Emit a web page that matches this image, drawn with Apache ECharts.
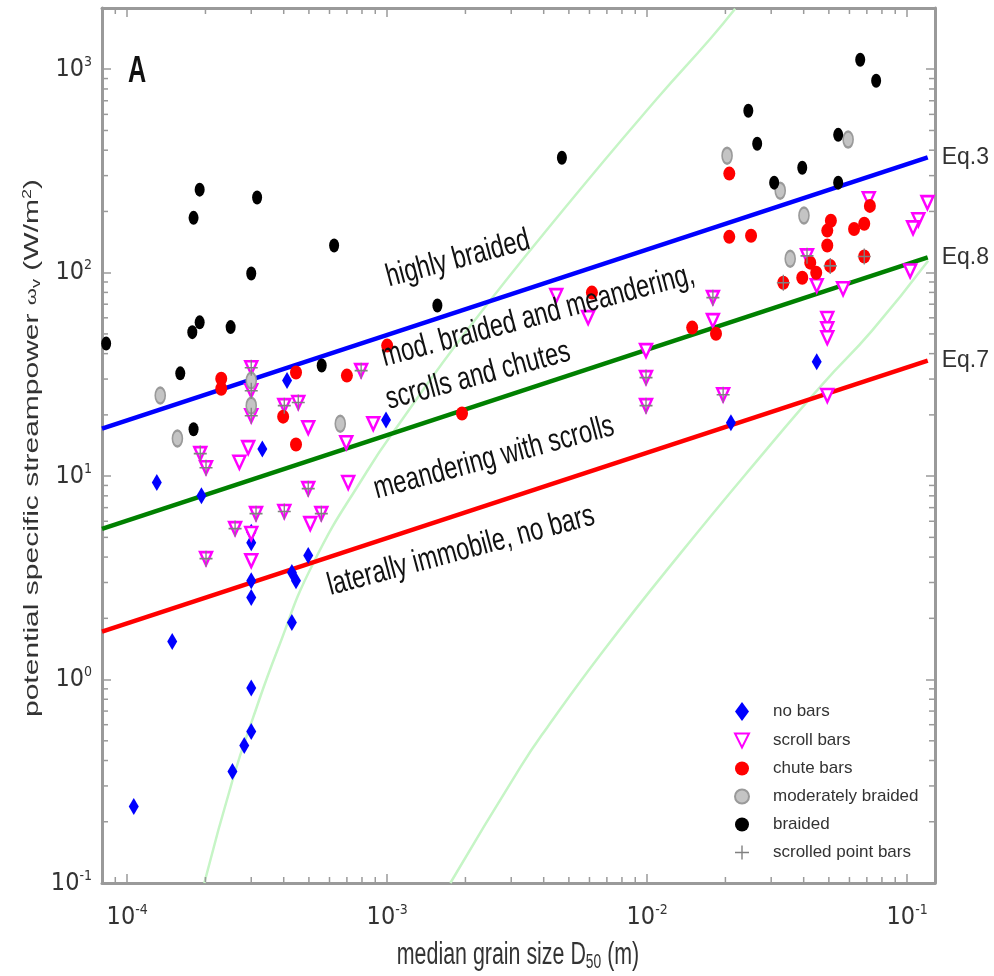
<!DOCTYPE html>
<html>
<head>
<meta charset="utf-8">
<title>Potential specific stream power vs median grain size</title>
<script src="https://cdn.jsdelivr.net/npm/echarts@6/dist/echarts.min.js"></script>
<style>
  html, body { margin: 0; padding: 0; background: #fff; overflow: hidden; }
  #chart { width: 994px; height: 976px; }
</style>
</head>
<body>
<div id="chart"></div>
<script>
// axis extents (log-log)
const xMin = 8e-5, xMax = 0.128;
const yMin = 0.1, yMax = 2000;

// points: [median grain size D50 (m), potential specific stream power (W/m2)]
const noBars = [
  [1.30e-4, 9.3], [1.93e-4, 8.0], [4.12e-4, 29.5], [3.31e-4, 13.6], [3.0e-4, 5.3],
  [3.0e-4, 4.7], [4.97e-4, 4.07], [4.3e-4, 3.36], [4.46e-4, 3.06], [3.0e-4, 3.06],
  [3.0e-4, 2.53], [4.3e-4, 1.91], [1.49e-4, 1.54], [3.0e-4, 0.91], [3.0e-4, 0.555],
  [2.82e-4, 0.474], [2.54e-4, 0.353], [1.06e-4, 0.238], [9.9e-4, 18.9], [0.0449, 36.5],
  [0.021, 18.3]
];
const scrollBars = [
  [3.0e-4, 34.1], [3.0e-4, 26.3], [3.0e-4, 19.8], [4.02e-4, 22.2], [4.55e-4, 23.0],
  [4.97e-4, 17.3], [7.94e-4, 33.0], [6.96e-4, 14.6], [2.92e-4, 13.8], [1.91e-4, 12.9],
  [2.01e-4, 11.0], [2.7e-4, 11.7], [7.08e-4, 9.3], [4.97e-4, 8.68], [3.13e-4, 6.54],
  [4.02e-4, 6.7], [5.58e-4, 6.54], [5.06e-4, 5.84], [2.6e-4, 5.52], [3.0e-4, 5.22],
  [2.01e-4, 3.93], [3.0e-4, 3.84], [8.84e-4, 18.1], [9.9e-3, 41.4], [9.9e-3, 30.5],
  [9.9e-3, 22.2], [5.93e-3, 60.1], [4.47e-3, 77.1], [0.0179, 75.4], [0.0179, 58.1],
  [0.0196, 25.1], [0.0712, 231], [0.1197, 221], [0.1104, 182], [0.1054, 166],
  [0.0412, 121], [0.0449, 86.3], [0.0567, 83.4], [0.1027, 102], [0.0493, 59.5],
  [0.0493, 53], [0.0493, 47.9], [0.0493, 24.9]
];
const chuteBars = [
  [2.3e-4, 30.1], [2.3e-4, 26.9], [4.46e-4, 32.3], [3.98e-4, 19.6], [4.46e-4, 14.3],
  [7.0e-4, 31.2], [1.0e-3, 43.8], [1.94e-3, 20.3], [6.13e-3, 79.8], [0.0149, 53.7],
  [0.0184, 50.1], [0.0207, 307], [0.0207, 150], [0.0251, 152], [0.0719, 213],
  [0.0509, 180], [0.0493, 161], [0.0625, 164], [0.0684, 174], [0.0493, 136],
  [0.0684, 120], [0.0506, 108], [0.0424, 112], [0.0447, 100], [0.0395, 94.5],
  [0.0334, 89.3]
];
const modBraided = [
  [1.34e-4, 24.9], [1.56e-4, 15.3], [3.0e-4, 29.5], [3.0e-4, 22.2], [6.6e-4, 18.1],
  [0.0203, 376], [0.0593, 451], [0.0325, 253], [0.0401, 191], [0.0355, 117]
];
const braided = [
  [8.3e-5, 44.8], [1.6e-4, 32], [1.8e-4, 17], [1.9e-4, 256], [1.8e-4, 186],
  [3.16e-4, 234], [6.25e-4, 136], [3.0e-4, 99], [1.9e-4, 57], [1.78e-4, 51],
  [2.5e-4, 54], [5.6e-4, 35], [1.56e-3, 69], [4.7e-3, 367], [0.066, 1114],
  [0.076, 878], [0.0245, 625], [0.0265, 430], [0.0543, 476], [0.0395, 328],
  [0.0308, 277], [0.0543, 277]
];
const scrolledPointBars = [
  [3.0e-4, 34.1], [3.0e-4, 26.3], [3.0e-4, 19.8], [4.02e-4, 22.2], [4.55e-4, 23.0],
  [7.94e-4, 33.0], [1.91e-4, 12.9], [2.01e-4, 11.0], [4.97e-4, 8.68], [3.13e-4, 6.54],
  [4.02e-4, 6.7], [5.58e-4, 6.54], [2.6e-4, 5.52], [2.01e-4, 3.93], [9.9e-3, 30.5],
  [9.9e-3, 22.2], [0.0179, 75.4], [0.0196, 25.1], [0.0412, 121], [0.0334, 89.3],
  [0.0684, 120], [0.0506, 108]
];

// criterion lines (end points)
const eq3Line = [[8e-5, 17.1], [0.12, 369]];
const eq8Line = [[8e-5, 5.5], [0.12, 119]];
const eq7Line = [[8e-5, 1.72], [0.12, 37]];

// light green curves
const curveLeft = [
  [1.98e-4, 0.1], [2.56e-4, 0.33], [3.05e-4, 0.65], [3.78e-4, 1.39], [5.19e-4, 3.72],
  [8.38e-4, 10.6], [1.12e-3, 18.3], [2.05e-3, 53], [4.84e-3, 209], [1.09e-2, 716],
  [1.75e-2, 1413], [2.18e-2, 1983]
];
const curveRight = [
  [1.75e-3, 0.1], [3.25e-3, 0.37], [4.12e-3, 0.58], [6.8e-3, 1.39], [1.34e-2, 4.16],
  [2.79e-2, 12.9], [4.75e-2, 28.5], [7.33e-2, 51.9], [0.1205, 114.5]
];

// region annotations: text and centre (px)
const regionNotes = [
  { text: 'highly braided', x: 458, y: 259 },
  { text: 'mod. braided and meandering,', x: 538, y: 316 },
  { text: 'scrolls and chutes', x: 478, y: 376 },
  { text: 'meandering with scrolls', x: 494, y: 458 },
  { text: 'laterally immobile, no bars', x: 461, y: 551 }
];
const noteAngle = 15;

const legendNames = ['no bars', 'scroll bars', 'chute bars', 'moderately braided', 'braided', 'scrolled point bars'];

// minor tick positions
const minorX = [], minorY = [];
for (let e = -5; e <= -1; e++) {
  for (let m = 2; m <= 9; m++) {
    const v = m * Math.pow(10, e);
    if (v > xMin && v < xMax) minorX.push([v, yMin]);
  }
}
for (let e = -1; e <= 3; e++) {
  for (let m = 2; m <= 9; m++) {
    const v = m * Math.pow(10, e);
    if (v > yMin && v < yMax) minorY.push([xMin, v]);
  }
}

const axisGray = '#9a9a9a';
const narrow = '"DejaVu Sans Condensed", "Liberation Sans", sans-serif';
const plain = '"Liberation Sans", Arial, sans-serif';

const chart = echarts.init(document.getElementById('chart'));

function powLabel(v) {
  const l = Math.log10(v);
  const e = Math.round(l);
  if (Math.abs(l - e) > 1e-6) return '';
  return '10{sup|' + e + '}';
}

const labelRich = {
  sup: { fontSize: 14, fontFamily: narrow, color: '#333', padding: [0, 0, 14, 0] }
};

function logAxis(pos, min, max, showLabel) {
  return {
    type: 'log',
    position: pos,
    min: min,
    max: max,
    logBase: 10,
    axisLine: { show: true, lineStyle: { color: axisGray, width: 3 } },
    axisTick: { show: true, inside: true, length: 9, lineStyle: { color: axisGray, width: 1.5 } },
    splitLine: { show: false },
    axisLabel: {
      show: showLabel,
      formatter: powLabel,
      fontFamily: narrow,
      fontSize: 25,
      color: '#333',
      margin: pos === 'bottom' ? 20 : 10,
      showMaxLabel: false,
      rich: labelRich
    }
  };
}

function minorTicks(data, isX) {
  return {
    type: 'custom',
    silent: true,
    clip: false,
    z: 6,
    data: data,
    renderItem: function (params, api) {
      const st = { stroke: axisGray, lineWidth: 1.5 };
      if (isX) {
        const v = api.value(0);
        const b = api.coord([v, yMin]);
        const t = api.coord([v, yMax]);
        return { type: 'group', children: [
          { type: 'line', shape: { x1: b[0], y1: b[1] - 1, x2: b[0], y2: b[1] - 6 }, style: st },
          { type: 'line', shape: { x1: t[0], y1: t[1] + 1, x2: t[0], y2: t[1] + 6 }, style: st }
        ] };
      }
      const v = api.value(1);
      const l = api.coord([xMin, v]);
      const r = api.coord([xMax, v]);
      return { type: 'group', children: [
        { type: 'line', shape: { x1: l[0] + 1, y1: l[1], x2: l[0] + 6, y2: l[1] }, style: st },
        { type: 'line', shape: { x1: r[0] - 1, y1: r[1], x2: r[0] - 6, y2: r[1] }, style: st }
      ] };
    }
  };
}

function critLine(data, color, label) {
  return {
    type: 'line',
    data: data,
    showSymbol: false,
    silent: true,
    z: 3,
    lineStyle: { color: color, width: 4.5 },
    endLabel: {
      show: true,
      formatter: label,
      distance: 14,
      fontFamily: plain,
      fontSize: 23,
      color: '#333'
    }
  };
}

function curve(data) {
  return {
    type: 'line',
    data: data,
    showSymbol: false,
    silent: true,
    smooth: 0.5,
    z: 2,
    lineStyle: { color: '#c6f5c6', width: 2.5 }
  };
}

const plusPath = 'path://M9,0H11V9H20V11H11V20H9V11H0V9H9Z';
const downTriangle = 'path://M0,0L20,0L10,20Z';

const option = {
  backgroundColor: '#fff',
  animation: false,
  grid: { left: 102, right: 59, top: 8, bottom: 93 },
  xAxis: [logAxis('bottom', xMin, xMax, true), logAxis('top', xMin, xMax, false)],
  yAxis: [logAxis('left', yMin, yMax, true), logAxis('right', yMin, yMax, false)],
  legend: {
    data: [
      { name: legendNames[0], icon: 'diamond' },
      { name: legendNames[1], icon: downTriangle },
      { name: legendNames[2], icon: 'circle' },
      { name: legendNames[3], icon: 'circle' },
      { name: legendNames[4], icon: 'circle' },
      { name: legendNames[5], icon: plusPath }
    ],
    orient: 'vertical',
    left: 729,
    top: 697,
    itemWidth: 14,
    itemHeight: 19,
    itemGap: 11,
    selectedMode: false,
    textStyle: { fontFamily: plain, fontSize: 17, color: '#333', padding: [0, 0, 0, 19] }
  },
  graphic: [
    {
      type: 'text', x: 137, y: 72, scaleX: 0.7, z: 20,
      style: { text: 'A', font: 'bold 36px ' + plain, fill: '#111', align: 'center', verticalAlign: 'middle' }
    },
    {
      type: 'text', x: 518, y: 955, scaleX: 0.69, z: 20,
      style: {
        text: 'median grain size D{sub|50} (m)',
        font: '31px ' + plain, fill: '#333', align: 'center', verticalAlign: 'middle',
        rich: { sub: { fontSize: 20, fontFamily: plain, fill: '#333', padding: [14, 0, 0, 0] } }
      }
    },
    {
      type: 'text', x: 32, y: 448, rotation: Math.PI / 2, scaleY: 0.69, z: 20,
      style: {
        text: 'potential specific streampower {om|ω}{sub|v} (W/m{sup|2})',
        font: '30px ' + plain, fill: '#333', align: 'center', verticalAlign: 'middle',
        rich: {
          om: { fontSize: 22, fontFamily: plain, fill: '#333' },
          sub: { fontSize: 18, fontFamily: plain, fill: '#333', padding: [12, 0, 0, 0] },
          sup: { fontSize: 18, fontFamily: plain, fill: '#333', padding: [0, 0, 12, 0] }
        }
      }
    }
  ].concat(regionNotes.map(function (n) {
    return {
      type: 'text', x: n.x, y: n.y, rotation: noteAngle * Math.PI / 180, scaleX: 0.74, z: 20,
      style: { text: n.text, font: '32px ' + plain, fill: '#111', align: 'center', verticalAlign: 'middle' }
    };
  })),
  series: [
    curve(curveLeft),
    curve(curveRight),
    critLine(eq3Line, '#0000ff', 'Eq.3'),
    critLine(eq8Line, '#008000', 'Eq.8'),
    critLine(eq7Line, '#ff0000', 'Eq.7'),
    minorTicks(minorX, true),
    minorTicks(minorY, false),
    {
      name: legendNames[0], type: 'scatter', data: noBars, z: 10,
      symbol: 'diamond', symbolSize: [10, 17],
      itemStyle: { color: '#0000ff', opacity: 1 }
    },
    {
      name: legendNames[1], type: 'scatter', data: scrollBars, z: 10,
      symbol: 'triangle', symbolRotate: 180, symbolSize: [12, 13],
      itemStyle: { color: '#ffffff', borderColor: '#ff00ff', borderWidth: 2.5, opacity: 1 }
    },
    {
      name: legendNames[2], type: 'scatter', data: chuteBars, z: 10,
      symbol: 'circle', symbolSize: [12, 14],
      itemStyle: { color: '#ff0000', opacity: 1 }
    },
    {
      name: legendNames[3], type: 'scatter', data: modBraided, z: 10,
      symbol: 'circle', symbolSize: [10, 16],
      itemStyle: { color: '#c4c4c4', borderColor: '#9a9a9a', borderWidth: 2, opacity: 1 }
    },
    {
      name: legendNames[4], type: 'scatter', data: braided, z: 10,
      symbol: 'circle', symbolSize: [10, 14],
      itemStyle: { color: '#000000', opacity: 1 }
    },
    {
      name: legendNames[5], type: 'scatter', data: scrolledPointBars, z: 11,
      symbol: plusPath, symbolSize: [13, 16],
      itemStyle: { color: '#808080', opacity: 1 }
    }
  ]
};

chart.setOption(option);
</script>
</body>
</html>
